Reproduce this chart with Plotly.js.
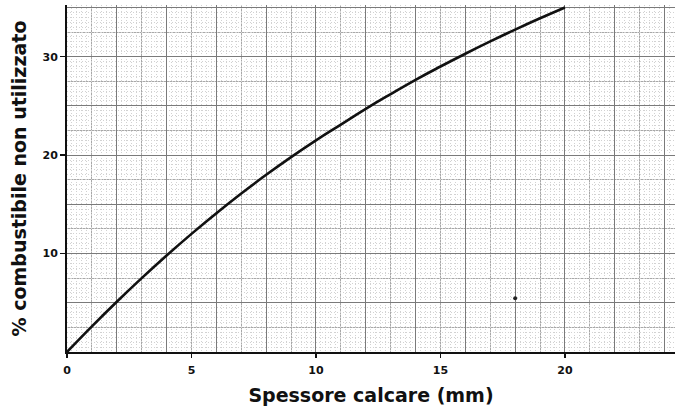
<!DOCTYPE html>
<html>
<head>
<meta charset="utf-8">
<script src="https://cdn.plot.ly/plotly-3.0.1.min.js"></script>
<style>html,body{margin:0;padding:0;background:#fff;}#chart{width:680px;height:407px;}</style>
</head>
<body>
<div id="chart"></div>
<script>
// Data
const spessore = [0, 1, 2, 3, 4, 5, 6, 7, 8, 9, 10, 11, 12, 13, 14, 15, 16, 17, 18, 19, 20];
const combustibile = [0, 2.6, 5.1, 7.5, 9.8, 12.0, 14.1, 16.1, 18.0, 19.8, 21.5, 23.1, 24.7, 26.2, 27.65, 29.0, 30.3, 31.55, 32.75, 33.9, 35.0];
const speckX = [18.0];
const speckY = [5.45];
const xTickVals = [0, 5, 10, 15, 20];
const yTickVals = [10, 20, 30];
const xTitle = "Spessore calcare (mm)";
const yTitle = "% combustibile non utilizzato";

const xRange = [0, 24.42];
const yRange = [0, 35.25];
const fnt = "DejaVu Sans, sans-serif";

const traces = [
  {x: [0], y: [0], xaxis: 'x2', yaxis: 'y2', mode: 'markers', marker: {opacity: 0}, hoverinfo: 'skip', showlegend: false},
  {x: [0], y: [0], xaxis: 'x3', yaxis: 'y3', mode: 'markers', marker: {opacity: 0}, hoverinfo: 'skip', showlegend: false},
  {x: spessore, y: combustibile, mode: 'lines', line: {color: '#111', width: 2.6, shape: 'spline', smoothing: 1.3}, showlegend: false},
  {x: speckX, y: speckY, mode: 'markers', marker: {color: '#222', size: 4}, showlegend: false}
];

const fineAxis = {showline: false, zeroline: false, showticklabels: false, ticks: ''};

const layout = {
  width: 680, height: 407,
  margin: {l: 67, r: 5, t: 5, b: 55},
  paper_bgcolor: '#fff', plot_bgcolor: '#fff',
  font: {family: fnt, color: '#111'},
  xaxis: {
    range: xRange, showgrid: false, zeroline: false,
    showline: true, linecolor: '#111', linewidth: 2,
    tickmode: 'array', tickvals: xTickVals, ticktext: xTickVals.map(String),
    ticks: 'outside', ticklen: 4, tickwidth: 1.5, tickcolor: '#111',
    ticklabelstandoff: 3,
    tickfont: {family: fnt, size: 11, weight: 'bold', color: '#111'},
    title: {text: xTitle, font: {family: fnt, size: 19, weight: 'bold', color: '#111'}, standoff: 12}
  },
  yaxis: {
    range: yRange, showgrid: false, zeroline: false,
    showline: true, linecolor: '#111', linewidth: 2,
    tickmode: 'array', tickvals: yTickVals, ticktext: yTickVals.map(String),
    ticks: 'outside', ticklen: 5, tickwidth: 1.5, tickcolor: '#111',
    tickfont: {family: fnt, size: 11, weight: 'bold', color: '#111'},
    title: {text: yTitle, font: {family: fnt, size: 19, weight: 'bold', color: '#111'}, standoff: 11}
  },
  xaxis2: Object.assign({}, fineAxis, {range: xRange, overlaying: 'x', anchor: 'y2',
    showgrid: true, tick0: 0, dtick: 0.2, gridcolor: '#d2d2d2', gridwidth: 1, griddash: '1px,2px'}),
  yaxis2: Object.assign({}, fineAxis, {range: yRange, overlaying: 'y', anchor: 'x2',
    showgrid: true, tick0: 0, dtick: 0.5, gridcolor: '#d2d2d2', gridwidth: 1, griddash: '1px,2px'}),
  xaxis3: Object.assign({}, fineAxis, {range: xRange, overlaying: 'x', anchor: 'y3',
    showgrid: true, tick0: 0, dtick: 2, gridcolor: '#7a7a7a', gridwidth: 1,
    minor: {tick0: 0, dtick: 1, showgrid: true, gridcolor: '#a8a8a8', gridwidth: 1}}),
  yaxis3: Object.assign({}, fineAxis, {range: yRange, overlaying: 'y', anchor: 'x3',
    showgrid: true, tick0: 0, dtick: 5, gridcolor: '#7a7a7a', gridwidth: 1,
    minor: {tick0: 0, dtick: 2.5, showgrid: true, gridcolor: '#a8a8a8', gridwidth: 1}})
};

Plotly.newPlot('chart', traces, layout, {displayModeBar: false, staticPlot: true});
</script>
</body>
</html>
